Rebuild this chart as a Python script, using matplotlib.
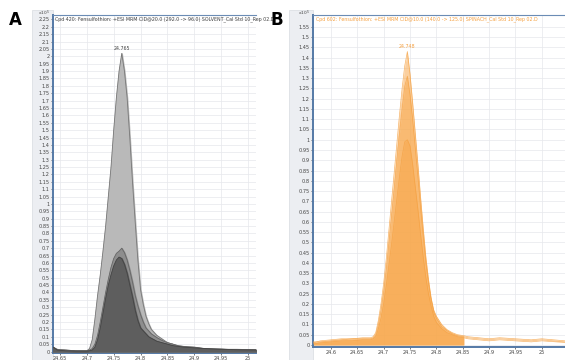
import matplotlib.pyplot as plt
from matplotlib.patches import Rectangle
import numpy as np

# ---- panel A: solvent standard, three grey overlaid traces (x1e5 counts)
a_time = [24.637, 24.645, 24.66, 24.68, 24.70, 24.705, 24.71, 24.715, 24.72, 24.725,
          24.73, 24.735, 24.74, 24.745, 24.75, 24.755, 24.76, 24.765, 24.77, 24.775,
          24.78, 24.785, 24.79, 24.795, 24.80, 24.805, 24.81, 24.815, 24.82, 24.83,
          24.84, 24.85, 24.86, 24.87, 24.88, 24.90, 24.92, 24.95, 24.98, 25.015]
a_light = [0.03, 0.015, 0.01, 0.005, 0.005, 0.02, 0.08, 0.22, 0.38, 0.52,
           0.68, 0.85, 1.05, 1.25, 1.50, 1.72, 1.90, 2.02, 1.90, 1.72,
           1.45, 1.15, 0.88, 0.62, 0.42, 0.32, 0.24, 0.19, 0.15, 0.11,
           0.085, 0.06, 0.05, 0.035, 0.03, 0.02, 0.015, 0.018, 0.01, 0.012]
a_mid = [0.02, 0.012, 0.01, 0.005, 0.005, 0.01, 0.02, 0.05, 0.11, 0.20,
         0.30, 0.40, 0.49, 0.57, 0.63, 0.665, 0.68, 0.70, 0.67, 0.62,
         0.55, 0.47, 0.38, 0.31, 0.25, 0.20, 0.16, 0.14, 0.12, 0.095,
         0.075, 0.06, 0.05, 0.04, 0.035, 0.03, 0.02, 0.015, 0.015, 0.012]
a_dark = [0.03, 0.01, 0.005, 0.003, 0.003, 0.005, 0.01, 0.03, 0.08, 0.16,
          0.26, 0.36, 0.45, 0.52, 0.58, 0.62, 0.64, 0.63, 0.59, 0.53,
          0.45, 0.37, 0.28, 0.21, 0.16, 0.14, 0.12, 0.10, 0.09, 0.07,
          0.06, 0.05, 0.04, 0.035, 0.03, 0.025, 0.02, 0.015, 0.012, 0.01]

# ---- panel B: spinach matrix, orange overlaid traces
b_time = [24.566, 24.58, 24.60, 24.62, 24.64, 24.66, 24.675, 24.68, 24.685, 24.69,
          24.695, 24.70, 24.705, 24.71, 24.715, 24.72, 24.725, 24.73, 24.735, 24.74,
          24.745, 24.75, 24.755, 24.76, 24.765, 24.77, 24.775, 24.78, 24.785, 24.79,
          24.795, 24.80, 24.81, 24.82, 24.83, 24.84, 24.852, 24.86, 24.88, 24.90,
          24.92, 24.95, 24.98, 25.00, 25.044]
b_high = [0.01, 0.02, 0.025, 0.03, 0.03, 0.035, 0.035, 0.04, 0.06, 0.12,
          0.20, 0.30, 0.42, 0.56, 0.70, 0.84, 0.98, 1.12, 1.25, 1.36,
          1.43, 1.32, 1.18, 1.03, 0.88, 0.72, 0.57, 0.43, 0.32, 0.23,
          0.17, 0.14, 0.10, 0.075, 0.06, 0.05, 0.045, 0.04, 0.035, 0.03,
          0.035, 0.03, 0.025, 0.03, 0.02]
b_mid = [0.015, 0.015, 0.02, 0.025, 0.03, 0.03, 0.03, 0.035, 0.05, 0.10,
         0.17, 0.26, 0.37, 0.50, 0.63, 0.76, 0.90, 1.03, 1.15, 1.26,
         1.31, 1.22, 1.10, 0.96, 0.82, 0.67, 0.53, 0.40, 0.30, 0.22,
         0.16, 0.13, 0.09, 0.07, 0.055, 0.045, 0.04, 0.035, 0.03, 0.025,
         0.03, 0.025, 0.02, 0.025, 0.015]
b_low = [0.005, 0.01, 0.015, 0.02, 0.02, 0.025, 0.025, 0.03, 0.04, 0.08,
         0.13, 0.20, 0.29, 0.39, 0.49, 0.60, 0.71, 0.82, 0.92, 0.99,
         1.00, 0.97, 0.88, 0.77, 0.66, 0.54, 0.43, 0.33, 0.25, 0.19,
         0.14, 0.11, 0.08, 0.06, 0.05, 0.04, 0.035, 0.03, 0.025, 0.02,
         0.025, 0.02, 0.015, 0.02, 0.012]

a_title = "Cpd 420: Fensulfothion: +ESI MRM CID@20.0 (292.0 -> 96.0) SOLVENT_Cal Std 10_Rep 02.D"
b_title = "Cpd 602: Fensulfothion: +ESI MRM CID@10.0 (140.0 -> 125.0) SPINACH_Cal Std 10_Rep 02.D"
a_peak = "24.765"
b_peak = "24.748"

W, H = 565, 360
fig = plt.figure(figsize=(W / 100, H / 100), dpi=100)

# grey strips behind the y tick labels
fig.add_artist(Rectangle((32 / W, 0), 21 / W, 1 - 10 / H, transform=fig.transFigure,
                         facecolor='#eceef2', edgecolor='#d8dbe0', lw=0.5, zorder=0))
fig.add_artist(Rectangle((289 / W, 0), 24 / W, 1 - 10 / H, transform=fig.transFigure,
                         facecolor='#eceef2', edgecolor='#d8dbe0', lw=0.5, zorder=0))

axA = fig.add_axes([53 / W, 1 - 353 / H, 203 / W, 338 / H])
axB = fig.add_axes([313 / W, 1 - 347 / H, 252 / W, 332 / H])


def style(ax, xlim, ylim, yticks, xticks, xlabels):
    ax.set_xlim(*xlim)
    ax.set_ylim(*ylim)
    ax.set_yticks(yticks)
    ax.set_yticklabels([f"{v:g}" for v in yticks])
    ax.set_xticks(xticks)
    ax.set_xticklabels(xlabels)
    ax.tick_params(labelsize=3.6, length=1.5, width=0.5, pad=1, colors='#444444')
    ax.grid(True, color='#e6e8ec', lw=0.5)
    ax.set_axisbelow(True)
    for s in ['left', 'bottom']:
        ax.spines[s].set_color('#5479a6')
        ax.spines[s].set_linewidth(1.4)
    ax.spines['top'].set_color('#6b8cb5')
    ax.spines['top'].set_linewidth(0.8)
    ax.spines['right'].set_visible(False)


# panel A
axA.fill_between(a_time, a_light, color='#b9b9b9', zorder=2)
axA.plot(a_time, a_light, color='#777777', lw=0.6, zorder=3)
axA.fill_between(a_time, a_mid, color='#8e8e8e', zorder=4)
axA.plot(a_time, a_mid, color='#666666', lw=0.6, zorder=5)
axA.fill_between(a_time, a_dark, color='#5e5e5e', zorder=6)
axA.plot(a_time, a_dark, color='#444444', lw=0.6, zorder=7)
a_yt = np.round(np.arange(0, 2.26, 0.05), 2)
style(axA, (24.637, 25.015), (-0.01, 2.28), a_yt,
      [24.65, 24.7, 24.75, 24.8, 24.85, 24.9, 24.95, 25.0],
      ['24.65', '24.7', '24.75', '24.8', '24.85', '24.9', '24.95', '25'])
axA.text(0.01, 0.995, a_title, transform=axA.transAxes, fontsize=3.4,
         color='#444444', va='top', ha='left')
axA.annotate(a_peak, (24.765, max(a_light)), xytext=(0, 2), textcoords='offset points',
             ha='center', va='bottom', fontsize=3.4, color='#444444')
axA.annotate(r'x10$^5$', (0, 1), xycoords='axes fraction', xytext=(-2, 1.5),
             textcoords='offset points', fontsize=3.2, color='#444444',
             ha='right', va='center')

# panel B
orange = '#f8a94e'
bt = np.array(b_time)
mask = bt <= 24.852
for vals, a in [(b_high, 0.55), (b_mid, 0.55), (b_low, 0.6)]:
    v = np.array(vals)
    axB.fill_between(bt[mask], v[mask], color=orange, alpha=a, lw=0, zorder=2)
    axB.plot(bt, v, color='#f5a040', lw=0.5, alpha=0.8, zorder=3)
b_yt = np.round(np.arange(0, 1.56, 0.05), 2)
style(axB, (24.566, 25.044), (-0.01, 1.608), b_yt,
      [24.6, 24.65, 24.7, 24.75, 24.8, 24.85, 24.9, 24.95, 25.0],
      ['24.6', '24.65', '24.7', '24.75', '24.8', '24.85', '24.9', '24.95', '25'])
axB.text(0.01, 0.995, b_title, transform=axB.transAxes, fontsize=3.4,
         color='#f5a040', va='top', ha='left')
axB.annotate(b_peak, (24.745, max(b_high)), xytext=(0, 2), textcoords='offset points',
             ha='center', va='bottom', fontsize=3.4, color='#f5a040')
axB.annotate(r'x10$^5$', (0, 1), xycoords='axes fraction', xytext=(-2, 1.5),
             textcoords='offset points', fontsize=3.2, color='#444444',
             ha='right', va='center')

fig.text(15 / W, 1 - 20 / H, 'A', fontsize=12, fontweight='bold', ha='center', va='center')
fig.text(277 / W, 1 - 20 / H, 'B', fontsize=12, fontweight='bold', ha='center', va='center')

fig.savefig('out.png', dpi=100)
